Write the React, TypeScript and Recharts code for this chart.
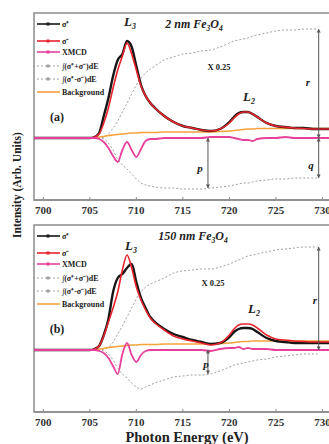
import React from 'react';
import { LineChart, Line, XAxis, YAxis, ReferenceArea, ReferenceLine } from 'recharts';

const FONT = "'Liberation Serif', 'Times New Roman', serif";

// Photon energy grid (eV)
const energy = [699, 700, 701, 702, 703, 704, 705, 705.5, 706, 706.5, 707, 707.5, 708, 708.5, 709, 709.5, 710, 710.5, 711, 711.5, 712, 713, 714, 715, 716, 717, 718, 719, 720, 720.5, 721, 721.5, 722, 722.5, 723, 724, 725, 726, 727, 728, 729, 729.5, 730, 731, 732];
const xTicks = [700, 705, 710, 715, 720, 725, 730];
const yTicks = [-62, -31, 0, 31, 62, 93, 124];

// Panel (a): 2 nm Fe3O4
const sigmaPlusA = [0, 0, 0, 0, 0, 0, 0, 1, 5, 22, 40, 62, 78, 84, 97, 91, 72, 53, 42, 35, 30, 22, 16, 12, 10, 8, 7, 9, 16, 21, 25, 26, 26, 24, 21, 15, 12, 11, 10, 10, 9, 9, 9, 9, 9];
const sigmaMinusA = [0, 0, 0, 0, 0, 0, 0, 1, 4, 15, 30, 50, 68, 82, 95, 84, 68, 52, 42, 35, 30, 22, 16, 12, 10, 8, 7, 9, 15, 20, 24, 26, 26, 24, 21, 15, 12, 11, 10, 9.5, 9, 9, 9, 9, 9];
const xmcdA = [0, 0, 0, 0, 0, 0, 0, 0, -1, -4, -10, -18, -24, -12, -4, -12, -19, -11, -3, -1, -1, 0, 0, 0, 0, 0, 1, 1, 1, 0, -1, -2, -2, -3, -1, 0, 0, 1, 0, 0, 0, 0, 0, 0, 0];
const bgA = [0, 0, 0, 0, 0, 0, 0, 0, 1, 1.5, 2.5, 3, 3.5, 4, 4.5, 5, 5, 5.5, 5.5, 5.5, 5.5, 6, 6, 6, 6, 6, 6, 6.5, 7, 7.5, 8, 8.5, 9, 9, 9.5, 9.5, 9.5, 9.5, 9.5, 9.5, 9.5, 9.5, 9.5, 9.5, 9.5];
const sumIntA = [0, 0, 0, 0, 0, 0, 0, 0, 0, 1, 4, 10, 17, 26, 35, 44, 53, 60, 65, 69, 72, 78, 81, 84, 85, 87, 88, 91, 95, 97, 98, 99, 100, 102, 103, 105, 107, 108, 108, 109, 109, 109, null, null, null];
const xmcdIntA = [0, 0, 0, 0, 0, 0, 0, 0, 0, -1, -5, -12, -21, -27, -31, -36, -41, -45, -47, -48, -49, -50, -50, -51, -51, -51, -50, -49, -48, -47, -46, -45, -45, -44, -43, -42, -41, -41, -40, -40, -40, -40, null, null, null];

// Panel (b): 150 nm Fe3O4
const sigmaPlusB = [0, 0, 0, 0, 0, 0, 0, 1, 4, 15, 31, 58, 72, 76, 82, 86, 68, 52, 42, 33, 28, 21, 16, 13, 10, 8, 6, 7, 13, 18, 21, 22, 22, 21, 18, 12, 9, 8, 7, 7, 7, 7, 7, 7, 7];
const sigmaMinusB = [0, 0, 0, 0, 0, 0, 0, 1, 4, 14, 28, 42, 58, 80, 95, 82, 63, 50, 40, 32, 27, 20, 14, 11, 9, 7, 5, 7, 15, 21, 25, 26, 26, 25, 22, 15, 11, 10, 9, 8.5, 8, 8, 8, 8, 8];
const xmcdB = [0, 0, 0, 0, 0, 0, 0, 0, -1, -3, -8, -16, -24, -4, 7, -5, -12, -5, -1, 0, 0, 0, 0, 0, 0, 0, -1, 1, 2, 2, 3, 1, 2, 1, 1, 1, 0, 0, 0, 0, 0, 0, 0, 0, 0];
const bgB = [0, 0, 0, 0, 0, 0, 0, 0, 1, 1.5, 2.5, 3, 3.5, 4, 4.5, 5, 5, 5.5, 5.5, 5.5, 5.5, 6, 6, 6, 6, 6, 6, 6.5, 7, 7.5, 8, 8.5, 8.5, 9, 9, 9, 9, 9, 9, 9, 9, 9, 9, 9, 9];
const sumIntB = [0, 0, 0, 0, 0, 0, 0, 0, 0, 1, 3, 8, 16, 24, 33, 42, 51, 58, 63, 66, 68, 72, 77, 79, 80, 81, 81, 83, 86, 88, 90, 92, 94, 95, 96, 98, 100, 101, 102, 103, 103, 103, null, null, null];
const xmcdIntB = [0, 0, 0, 0, 0, 0, 0, 0, 0, -1, -4, -10, -18, -24, -28, -33, -37, -39, -37, -35, -33, -30, -27, -26, -25, -25, -24, -21, -17, -15, -14, -13, -12, -11, -10, -9, -7, -6, -5, -4, -4, -4, null, null, null];

const legendLabels = ['σ⁺', 'σ⁻', 'XMCD', '∫(σ⁺+σ⁻)dE', '∫(σ⁺-σ⁻)dE', 'Background'];

const C_BLACK = '#161616';
const C_RED = '#e8232b';
const C_MAG = '#e6409b';
const C_ORANGE = '#f6a23c';
const C_GRAY = '#a0a0a0';
const C_FRAME = '#8c8c8c';

const pE = 717.7;
const rE = 729.6;

function Arrow(props: any) {
  const { x1, y1, x2, y2 } = props;
  const dir = y2 > y1 ? 1 : -1;
  const h = 3.5;
  return (
    <g>
      <line x1={x1} y1={y1} x2={x2} y2={y2} stroke="#555" strokeWidth={1} />
      <path d={`M${x1 - 2},${y1 + dir * h} L${x1},${y1} L${x1 + 2},${y1 + dir * h} Z`} fill="#555" />
      <path d={`M${x2 - 2},${y2 - dir * h} L${x2},${y2} L${x2 + 2},${y2 - dir * h} Z`} fill="#555" />
    </g>
  );
}

function Txt({ x, y, children, size = 10, italic = false, bold = true, anchor = 'center' }: any) {
  const tx = anchor === 'center' ? '-50%' : anchor === 'right' ? '-100%' : '0';
  return (
    <div
      style={{
        position: 'absolute',
        left: x,
        top: y,
        transform: `translate(${tx}, -50%)`,
        fontFamily: FONT,
        fontSize: size,
        fontStyle: italic ? 'italic' : 'normal',
        fontWeight: bold ? 700 : 400,
        whiteSpace: 'nowrap',
        lineHeight: 1,
        color: '#222',
      }}
    >
      {children}
    </div>
  );
}

function Legend() {
  const rowsY = [24, 41, 52, 66, 79, 92];
  const styles = [
    { c: C_BLACK, w: 1.6, d: undefined, m: true },
    { c: C_RED, w: 1.6, d: undefined, m: true },
    { c: C_MAG, w: 1.6, d: undefined, m: true },
    { c: C_GRAY, w: 1, d: '2 2', m: true },
    { c: C_GRAY, w: 1, d: '2 2', m: true },
    { c: C_ORANGE, w: 1.6, d: undefined, m: false },
  ];
  return (
    <svg width={130} height={110} style={{ position: 'absolute', left: 0, top: 0 }}>
      {rowsY.map((y, i) => (
        <g key={i}>
          <line x1={37} x2={60} y1={y} y2={y} stroke={styles[i].c} strokeWidth={styles[i].w} strokeDasharray={styles[i].d} />
          {styles[i].m && <rect x={46.5} y={y - 1.5} width={3} height={3} fill={styles[i].c} />}
          <text x={62} y={y} dominantBaseline="central" fontFamily={FONT} fontWeight={700} fontSize={8} fill="#222">
            {legendLabels[i]}
          </text>
        </g>
      ))}
    </svg>
  );
}

function Panel({ top, sp, sm, xm, bg, si, xi, hasQ, tag, title, pos }: any) {
  const rows = energy.map((e, i) => ({ e, sp: sp[i], sm: sm[i], xm: xm[i], bg: bg[i], si: si[i], xi: xi[i] }));
  const idxP = energy.indexOf(718);
  const idxR = energy.indexOf(729.5);
  const rTop = si[idxR];
  const qBot = xi[idxR];
  const pBot = xi[idxP];
  return (
    <div style={{ position: 'absolute', left: 0, top, width: 360, height: 224 }}>
      <LineChart width={360} height={224} data={rows} margin={{ top: 13, right: 19, left: 34, bottom: 0 }}>
        <XAxis
          dataKey="e"
          type="number"
          domain={[699, 732]}
          ticks={xTicks}
          interval={0}
          allowDataOverflow
          height={24}
          tickSize={-3}
          tickMargin={9}
          tick={{ fontSize: 11, fontWeight: 700, fill: '#333', fontFamily: FONT }}
          axisLine={{ stroke: C_FRAME, strokeWidth: 1.5 }}
          tickLine={{ stroke: C_FRAME }}
        />
        <YAxis
          type="number"
          domain={[-62, 125]}
          ticks={yTicks}
          allowDataOverflow
          width={0}
          tickSize={-3}
          tickFormatter={() => ''}
          axisLine={{ stroke: C_FRAME, strokeWidth: 1.5 }}
          tickLine={{ stroke: C_FRAME }}
        />
        <ReferenceArea x1={699} x2={732} y1={-62} y2={125} fill="none" stroke={C_FRAME} strokeWidth={1.5} />
        <Line dataKey="si" type="monotone" stroke={C_GRAY} strokeWidth={1} strokeDasharray="2 2" dot={false} isAnimationActive={false} />
        <Line dataKey="xi" type="monotone" stroke={C_GRAY} strokeWidth={1} strokeDasharray="2 2" dot={false} isAnimationActive={false} />
        <Line dataKey="bg" type="monotone" stroke={C_ORANGE} strokeWidth={1.6} dot={false} isAnimationActive={false} />
        <Line dataKey="sp" type="monotone" stroke={C_BLACK} strokeWidth={2.4} dot={false} isAnimationActive={false} />
        <Line dataKey="sm" type="monotone" stroke={C_RED} strokeWidth={1.6} dot={false} isAnimationActive={false} />
        <Line dataKey="xm" type="monotone" stroke={C_MAG} strokeWidth={1.8} dot={false} isAnimationActive={false} />
        <ReferenceLine segment={[{ x: rE, y: 0 }, { x: rE, y: rTop }]} shape={Arrow} ifOverflow="visible" />
        {hasQ && <ReferenceLine segment={[{ x: rE, y: 0 }, { x: rE, y: qBot }]} shape={Arrow} ifOverflow="visible" />}
        <ReferenceLine segment={[{ x: pE, y: 0 }, { x: pE, y: pBot }]} shape={Arrow} ifOverflow="visible" />
      </LineChart>
      <Legend />
      <Txt x={pos.L3[0]} y={pos.L3[1]} size={13} italic>L<sub style={{ fontSize: 8 }}>3</sub></Txt>
      <Txt x={pos.L2[0]} y={pos.L2[1]} size={13} italic>L<sub style={{ fontSize: 8 }}>2</sub></Txt>
      <Txt x={pos.title[0]} y={pos.title[1]} size={12} italic>{title}<span>Fe</span><sub style={{ fontSize: 7.5 }}>3</sub>O<sub style={{ fontSize: 7.5 }}>4</sub></Txt>
      <Txt x={pos.scale[0]} y={pos.scale[1]} size={8.5}>X 0.25</Txt>
      <Txt x={pos.tag[0]} y={pos.tag[1]} size={12}>{tag}</Txt>
      <Txt x={pos.r[0]} y={pos.r[1]} size={11} italic>r</Txt>
      {hasQ && <Txt x={pos.q[0]} y={pos.q[1]} size={11} italic>q</Txt>}
      <Txt x={pos.p[0]} y={pos.p[1]} size={11} italic>p</Txt>
    </div>
  );
}

export default function App() {
  return (
    <div style={{ position: 'absolute', left: 0, top: 0, width: 329, height: 444, overflow: 'hidden', background: '#fff' }}>
      <Panel
        top={0}
        sp={sigmaPlusA}
        sm={sigmaMinusA}
        xm={xmcdA}
        bg={bgA}
        si={sumIntA}
        xi={xmcdIntA}
        hasQ
        tag="(a)"
        title="2 nm "
        pos={{ L3: [130, 23], L2: [249, 98], title: [194, 25], scale: [219, 67], tag: [57, 117], r: [308, 82], q: [311, 165], p: [200, 168] }}
      />
      <Panel
        top={212}
        sp={sigmaPlusB}
        sm={sigmaMinusB}
        xm={xmcdB}
        bg={bgB}
        si={sumIntB}
        xi={xmcdIntB}
        hasQ={false}
        tag="(b)"
        title="150 nm "
        pos={{ L3: [131, 35], L2: [254, 98], title: [193, 25], scale: [213, 71], tag: [57, 117], r: [315, 88], q: [0, 0], p: [206, 152] }}
      />
      <div
        style={{
          position: 'absolute',
          left: 18,
          top: 185,
          transform: 'translate(-50%, -50%) rotate(-90deg)',
          fontFamily: FONT,
          fontWeight: 700,
          fontSize: 11.5,
          whiteSpace: 'nowrap',
          color: '#222',
          lineHeight: 1,
        }}
      >
        Intensity (Arb. Units)
      </div>
      <div
        style={{
          position: 'absolute',
          left: 187,
          top: 437,
          transform: 'translate(-50%, -50%)',
          fontFamily: FONT,
          fontWeight: 700,
          fontSize: 14.5,
          whiteSpace: 'nowrap',
          color: '#222',
          lineHeight: 1,
        }}
      >
        Photon Energy (eV)
      </div>
    </div>
  );
}
